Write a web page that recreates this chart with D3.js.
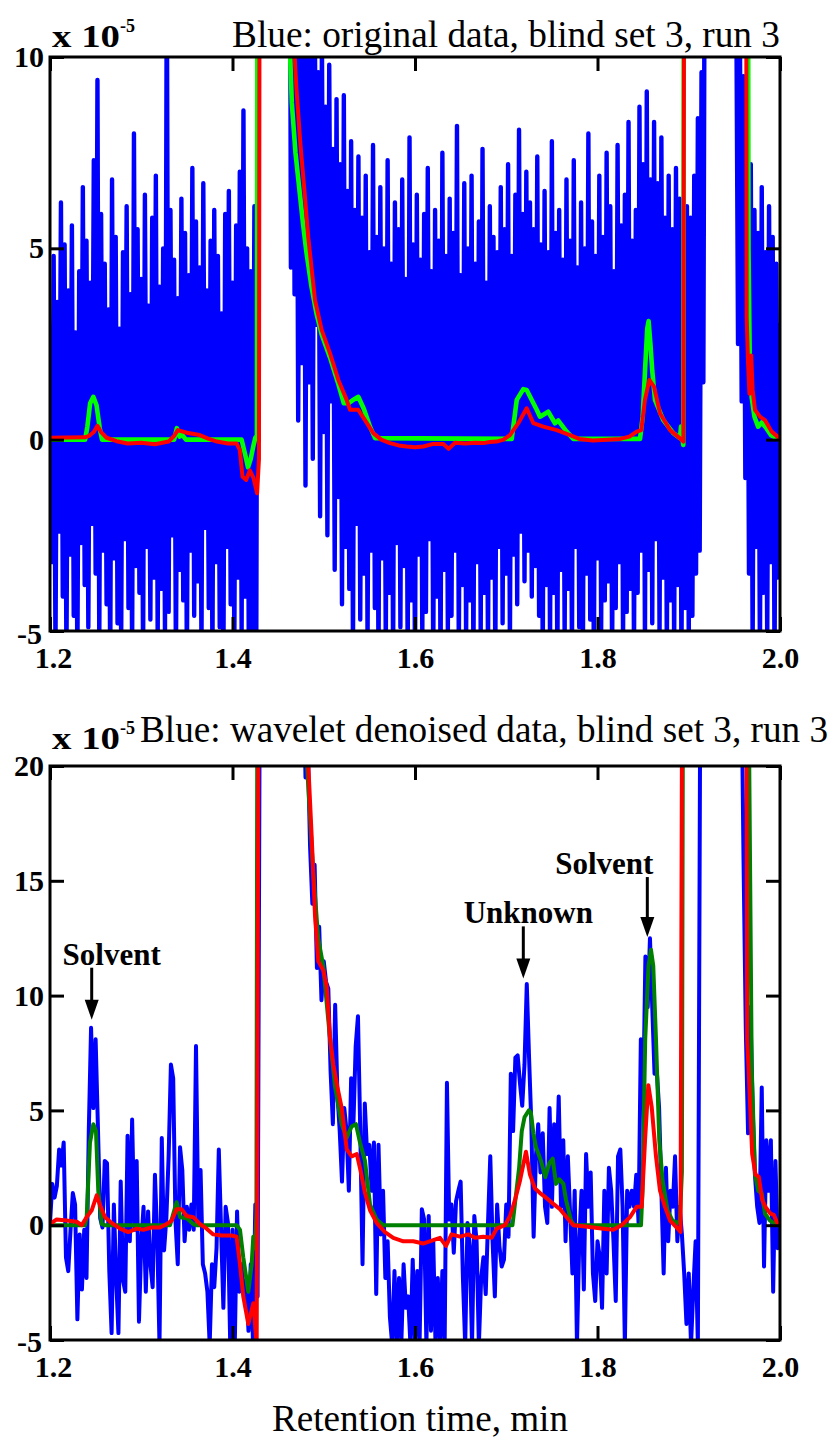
<!DOCTYPE html>
<html>
<head>
<meta charset="utf-8">
<script src="https://cdn.jsdelivr.net/npm/d3@7"></script>
<style>
  body { margin: 0; background: #fff; }
  svg { display: block; }
</style>
</head>
<body>
<svg id="chart" width="833" height="1441"></svg>
<script>
// ---- shared axis values ----
const xTicks = [1.2, 1.4, 1.6, 1.8, 2.0];
const rawYTicks = [-5, 0, 5, 10];
const denoisedYTicks = [-5, 0, 5, 10, 15, 20];

// ---- original detector signal (uniform sampling from 1.200 min, every 0.002 min) ----
const rawStart = 1.2, rawStep = 0.002;
const rawBlue = [
  1.5, -3.2, 4.8, -5.5, 3.6, -2.4, 6.2, -4.1, 5.1, -5.8,
  3.9, -3.0, 5.6, -4.6, 2.8, -5.9, 4.4, -2.7, 6.6, -3.8,
  5.2, -4.9, 4.1, -2.2, 7.3, -3.5, 9.4, -5.4, 5.9, -2.9,
  4.6, -4.3, 3.4, -6.1, 6.8, -3.1, 5.3, -4.8, 2.9, -5.3,
  4.9, -2.6, 6.1, -4.4, 3.8, -5.6, 8.0, -3.3, 5.5, -4.0,
  4.2, -5.7, 6.4, -2.8, 3.5, -4.7, 5.8, -3.6, 6.9, -5.2,
  4.0, -3.9, 5.0, -5.1, 12.5, -4.5, 6.0, -2.5, 4.7, -5.9,
  3.7, -3.4, 6.3, -4.2, 5.4, -6.0, 4.3, -2.9, 7.1, -4.6,
  5.7, -3.7, 4.5, -5.5, 6.7, -2.3, 3.9, -4.4, 5.2, -5.8,
  6.0, -3.2, 4.8, -4.9, 3.3, -6.2, 5.9, -2.8, 6.5, -4.3,
  4.1, -5.4, 5.6, -3.6, 7.0, -5.0, 8.6, -4.1, 5.0, -6.3,
  4.4, -5.2, 6.1, -6.0,
  14.0, 30,
  30, 32, 28, 35, 30, 33, 29, 31, 34, 30, 28, 32, 30, 33, 31,
  25, 4.5, 18, 3.8, 14, 0.5, 12, 2.0, 13, -1.2,
  11.5, 1.5, 10.8, -0.5, 12.0, 3.0, 9.6, -2.0, 10.5, 0.2,
  8.7, -2.5, 9.8, 1.0, 7.6, -3.4, 8.9, -1.5, 7.2, -4.3,
  9.0, -2.8, 6.5, -3.9, 7.8, -5.6, 6.0, -2.2, 7.4, -4.7,
  5.8, -3.5, 6.9, -5.3, 4.9, -2.9, 7.7, -4.4, 5.3, -6.0,
  6.6, -3.1, 5.0, -5.5, 7.3, -4.0, 4.6, -5.8, 6.2, -2.7,
  5.5, -4.9, 6.8, -3.3, 4.2, -5.7, 7.9, -4.2, 5.1, -6.1,
  6.4, -3.0, 4.7, -5.2, 5.9, -4.5, 7.1, -2.6, 4.4, -5.9,
  6.0, -4.1, 5.2, -6.2, 7.5, -3.4, 4.8, -5.0, 6.3, -4.6,
  5.4, -2.9, 8.2, -5.6, 4.3, -3.8, 6.7, -5.3, 5.0, -4.2,
  6.9, -6.0, 4.6, -3.2, 5.7, -5.1, 7.6, -4.0, 4.1, -5.7,
  6.1, -3.6, 5.3, -5.9, 4.9, -2.8, 6.6, -4.8, 5.5, -3.5,
  7.2, -5.4, 4.8, -3.0, 6.4, -4.3, 8.1, -2.4, 5.9, -3.7,
  7.0, -2.9, 6.2, -4.1, 5.5, -3.3, 7.4, -4.6, 5.1, -5.8,
  6.5, -3.8, 4.9, -5.5, 7.8, -4.0, 5.4, -6.1, 6.0, -3.4,
  4.7, -5.2, 6.8, -3.9, 5.2, -5.7, 7.3, -2.8, 4.5, -4.9,
  6.2, -5.6, 5.0, -3.5, 8.0, -4.7, 5.7, -6.0, 4.8, -3.1,
  6.9, -5.0, 5.3, -4.2, 7.5, -3.7, 6.1, -5.9, 4.4, -4.4,
  7.7, -3.2, 5.6, -5.3, 6.4, -4.5, 8.3, -3.9, 5.2, -5.6,
  6.0, -4.0, 8.7, -2.9, 7.2, -5.4, 9.1, -3.4, 6.8, -4.8,
  8.3, -2.6, 6.7, -5.1, 7.9, -3.6, 5.8, -5.7, 6.9, -4.2,
  5.5, -5.5, 7.1, -3.8, 6.3, -5.9, 5.0, -4.4, 6.1, -5.2,
  5.8, -4.6, 6.9, -3.5, 8.4, -2.9, 9.6, 1.5,
  18,
  30, 32, 29, 34, 30, 31, 33, 28, 30, 32, 31, 29, 33, 30,
  25, 30, 12.0, 2.5, 11.0, 1.0, 9.5, -1.0, 8.0, -3.5,
  7.2, -5.5, 6.0, -2.8, 5.4, -5.8, 6.6, -4.0, 4.9, -5.3,
  6.1, -3.2, 5.3, -5.9, 4.6, -3.6, 3.0
];

// ---- reference traces for the original signal: [time, value] ----
const rawGreen = [
  [1.200, 0.0], [1.2385, 0.0], [1.2410, 0.35], [1.2440, 0.95], [1.2475, 1.12], [1.2510, 0.9],
  [1.2545, 0.3], [1.2570, 0.0], [1.3360, 0.0], [1.3390, 0.3], [1.3420, 0.08], [1.3450, 0.12],
  [1.3490, 0.0], [1.4100, 0.0], [1.4140, -0.4], [1.4170, -0.72], [1.4200, -0.5], [1.4230, -0.15],
  [1.4250, 0.05], [1.4268, 0.1], [1.4280, 30],
  [1.4610, 30], [1.4625, 10.5], [1.4650, 8.8], [1.4690, 7.5], [1.4730, 6.6], [1.4770, 5.7],
  [1.4810, 4.9], [1.4865, 4.0], [1.4920, 3.3], [1.4977, 2.75], [1.5068, 2.15], [1.5160, 1.45],
  [1.5220, 0.95], [1.5270, 0.95], [1.5330, 1.05], [1.5379, 1.12], [1.5440, 0.8], [1.5507, 0.34],
  [1.5562, 0.04], [1.7060, 0.02], [1.7115, 1.04], [1.7187, 1.32], [1.7224, 1.3], [1.7334, 0.78],
  [1.7370, 0.6], [1.7460, 0.73], [1.7534, 0.43], [1.7570, 0.5], [1.7662, 0.21], [1.7735, 0.02],
  [1.8466, 0.02], [1.8495, 0.6], [1.8525, 2.0], [1.8545, 2.9], [1.8560, 3.1], [1.8580, 2.5],
  [1.8600, 1.8], [1.8630, 1.04], [1.8721, 0.51], [1.8831, 0.17], [1.8904, 0.04], [1.8915, 0.34],
  [1.8940, -0.14], [1.8955, 30],
  [1.9640, 30], [1.9655, 5.0], [1.9670, 1.8], [1.9690, 1.1], [1.9720, 0.6], [1.9760, 0.34],
  [1.9800, 0.45], [1.9850, 0.3], [1.9900, 0.12], [2.0000, 0.0]
];
const rawRed = [
  [1.200, 0.05], [1.2380, 0.06], [1.2430, 0.1], [1.2480, 0.2], [1.2520, 0.36], [1.2560, 0.2],
  [1.2620, 0.05], [1.2730, -0.04], [1.2850, -0.1], [1.3000, -0.08], [1.3150, -0.12], [1.3300, -0.05],
  [1.3360, 0.1], [1.3400, 0.25], [1.3500, 0.18], [1.3640, 0.12], [1.3740, 0.02], [1.3830, -0.05],
  [1.3950, -0.1], [1.4046, -0.1], [1.4080, -0.27], [1.4110, -0.97], [1.4150, -1.05], [1.4190, -0.8],
  [1.4230, -1.0], [1.4270, -1.4], [1.4290, -0.5], [1.4305, 30],
  [1.4650, 30], [1.4670, 10.5], [1.4700, 9.2], [1.4745, 7.7], [1.4785, 6.6], [1.4830, 5.3],
  [1.4904, 3.65], [1.4977, 2.87], [1.5068, 2.26], [1.5160, 1.56], [1.5251, 1.04], [1.5288, 0.78],
  [1.5379, 0.78], [1.5452, 0.51], [1.5543, 0.17], [1.5630, 0.0], [1.5726, -0.09], [1.5820, -0.15],
  [1.5909, -0.18], [1.6000, -0.2], [1.6091, -0.18], [1.6200, -0.11], [1.6310, -0.11], [1.6368, -0.24],
  [1.6438, -0.08], [1.6550, -0.1], [1.6660, -0.08], [1.6749, -0.09], [1.6820, -0.06], [1.6895, -0.05],
  [1.6970, 0.0], [1.7041, 0.12], [1.7132, 0.43], [1.7224, 0.82], [1.7297, 0.43], [1.7406, 0.34],
  [1.7553, 0.25], [1.7699, 0.12], [1.7800, 0.02], [1.7950, -0.02], [1.8100, 0.0], [1.8250, 0.02],
  [1.8350, 0.08], [1.8429, 0.21], [1.8480, 0.25], [1.8520, 1.04], [1.8568, 1.56], [1.8620, 1.38],
  [1.8685, 0.69], [1.8795, 0.25], [1.8900, 0.04], [1.8941, -0.05], [1.8959, 30],
  [1.9620, 30], [1.9635, 3.2], [1.9650, 2.0], [1.9665, 1.2], [1.9685, 2.2], [1.9700, 1.3],
  [1.9726, 0.78], [1.9780, 0.6], [1.9836, 0.51], [1.9909, 0.21], [1.9982, 0.06], [2.0000, 0.04]
];

// ---- wavelet denoised signal (uniform sampling from 1.200 min, every 0.0025 min) ----
const denoisedStart = 1.2, denoisedStep = 0.0025;
const denoisedBlue = [
  0.1, 1.8, 1.2, 1.7, 3.3, 2.6, 3.6, -1.4, -2.0, -0.2,
  1.4, 0.9, -4.1, -0.4, -2.8, -0.2, -2.3, 4.1, 8.6, 5.1,
  8.1, 4.3, 0.3, -0.1, 2.8, 2.7, -2.0, -4.7, 0.9, -2.3,
  -4.7, 1.9, -2.4, -2.9, 3.9, -0.7, 4.6, -0.2, 2.8, -4.2,
  -0.8, 0.8, -2.9, 0.6, -1.7, -2.7, 2.2, -0.5, -5.2, 3.8,
  -1.1, 0.3, 3.0, 7.0, 6.4, 0.2, -1.7, 3.4, 2.4, -0.7,
  0.8, -0.2, 0.9, -0.2, 7.8, 0.1, 2.4, -1.7, -2.1, -2.9,
  -5.2, -1.7, -2.7, -1.0, 3.3, -0.2, -3.6, 0.8, 0.1, -5.2,
  -0.2, -5.2, 0.6, -2.9, -1.7, -3.1, -2.4, -4.6, -1.7, -5.2,
  0.9, -3.1,
  25, 25, 25, 25, 25, 25, 25, 25, 25, 25,
  25, 25, 25, 25, 25, 25, 25, 25, 25, 25,
  19.5, 21, 16.5, 14.0, 15.7, 11.2, 13.0, 9.8,
  11.5, 10.6, 10.3, 6.7, 4.4, 9.6, 5.7, 4.1, 1.9, 5.1,
  4.1, 1.5, 6.4, 4.4, 7.8, 9.1, 4.1, -1.7, 5.3, 3.1,
  3.5, 1.5, 3.6, -3.0, 3.5, -0.4, 1.5, -2.3, -0.7, -4.0,
  -5.2, -2.0, -5.2, -2.3, -5.2, -1.7, -3.6, -3.1, -5.2, -1.5,
  -5.2, -2.0, -5.2, 0.7, 0.25, -5.2, 0.4, -4.6, -0.7, -5.2,
  -2.3, -5.2, -2.0, -5.2, 6.2, 0.25, 0.9, -1.2, 1.05, 1.5,
  1.9, -2.3, -5.2, 0.1, -0.9, -5.2, 0.4, -0.7, -5.2, -2.3,
  -1.4, -3.0, 0.1, 3.0, -0.7, -3.1, 0.9, -0.9, -1.8, -1.5,
  0.9, -0.5, 6.6, 4.1, 7.3, 7.4, 6.2, 5.2, 7.0, 10.5,
  7.3, 4.4, -0.5, 3.0, 4.4, 2.3, 4.0, 0.8, 0.1, 5.1,
  0.8, 4.4, 2.0, 5.6, 0.8, 3.7, -0.7, 3.0, 0.5, -2.1,
  1.5, -5.2, -0.7, 1.5, -2.8, 3.1, 0.8, 2.3, -2.1, -3.3,
  -0.7, -1.4, -3.6, 1.5, -2.1, 2.5, 1.5, -0.7, -3.3, 3.0,
  3.3, 0.8, -5.2, 1.5, 0.8, 1.5, 0.8, 2.2, 0.1, 8.1,
  5.1, 11.7, 9.5, 12.5, 9.5, 6.6, 6.7, 5.1, 1.5, -2.1,
  2.5, -0.7, 1.5, 0.8, 3.0, -0.7, 0.8, -0.4, -2.1, -4.3,
  -2.1, -5.2, -2.8, -0.7, -5.2, 22, 25,
  25, 25, 25, 25, 25, 25, 25, 25, 25, 25,
  25, 25, 25, 25, 25, 25, 25,
  16, 8.6, 4.0, 9.5, 5.1, 2.2, 0.8, 0.1, 6.0, -1.8,
  3.7, 1.5, 3.7, -2.9, 2.8, -1.0, -0.3
];

// ---- reference traces for the denoised signal: [time, value] ----
const denoisedGreen = [
  [1.200, 0.0], [1.2384, 0.0], [1.2402, 0.35], [1.2438, 3.6], [1.2475, 4.4], [1.2504, 4.1],
  [1.2529, 1.5], [1.2567, 0.05], [1.2600, 0.0], [1.3315, 0.0], [1.3351, 0.5], [1.3388, 1.0],
  [1.3425, 0.35], [1.3498, 0.3], [1.3570, 0.05], [1.3600, 0.0], [1.4046, 0.0], [1.4082, -0.2],
  [1.4118, -1.4], [1.4173, -2.9], [1.4210, -1.7], [1.4228, -0.5], [1.4245, -1.0], [1.4262, 0.5],
  [1.4275, 30],
  [1.4800, 30], [1.4810, 20.5], [1.4884, 15.4], [1.4939, 12.5], [1.4994, 11.3], [1.5067, 8.2],
  [1.5123, 6.05], [1.5196, 4.4], [1.5250, 3.8], [1.5305, 4.3], [1.5353, 4.4], [1.5397, 3.6],
  [1.5452, 2.8], [1.5507, 0.9], [1.5580, 0.25], [1.5653, 0.0], [1.7068, 0.0], [1.7141, 2.5],
  [1.7170, 4.1], [1.7200, 4.7], [1.7248, 5.0], [1.7270, 4.9], [1.7297, 4.0], [1.7326, 3.4],
  [1.7381, 2.8], [1.7428, 2.1], [1.7472, 2.7], [1.7509, 2.9], [1.7545, 1.8], [1.7582, 2.0],
  [1.7626, 1.8], [1.7655, 1.1], [1.7710, 0.2], [1.7746, 0.0], [1.8477, 0.0], [1.8493, 1.5],
  [1.8523, 8.1], [1.8559, 11.3], [1.8586, 12.0], [1.8611, 11.3], [1.8641, 8.1], [1.8677, 3.7],
  [1.8713, 1.95], [1.8767, 0.65], [1.8822, 0.2], [1.8877, 0.1], [1.8902, 0.2], [1.8925, 2.3],
  [1.8940, 30],
  [1.9650, 30], [1.9663, 20], [1.9690, 6.9], [1.9726, 2.2], [1.9762, 1.5], [1.9799, 1.4],
  [1.9836, 0.5], [1.9890, 0.2], [1.9970, 0.0], [2.0000, 0.0]
];
const denoisedRed = [
  [1.200, 0.05], [1.2073, 0.25], [1.2183, 0.2], [1.2293, 0.15], [1.2347, 0.0], [1.2402, 0.35],
  [1.2457, 0.65], [1.2512, 1.3], [1.2556, 0.8], [1.2603, 0.35], [1.2676, 0.1], [1.2767, -0.15],
  [1.2858, -0.3], [1.2949, -0.15], [1.3022, -0.2], [1.3114, -0.1], [1.3205, -0.1], [1.3278, 0.05],
  [1.3333, 0.2], [1.3388, 0.7], [1.3442, 0.7], [1.3497, 0.4], [1.3570, 0.35], [1.3644, 0.05],
  [1.3717, -0.15], [1.3789, -0.4], [1.3881, -0.45], [1.3990, -0.45], [1.4045, -0.5], [1.4082, -1.7],
  [1.4118, -3.1], [1.4173, -4.3], [1.4228, -3.4], [1.4265, -5.2], [1.4290, 30],
  [1.4820, 30], [1.4830, 20.1], [1.4867, 17.0], [1.4904, 13.5], [1.4940, 11.5], [1.4995, 11.1],
  [1.5032, 10.4], [1.5068, 8.2], [1.5105, 7.0], [1.5148, 6.05], [1.5197, 5.1], [1.5252, 3.3],
  [1.5307, 3.0], [1.5362, 3.1], [1.5405, 2.35], [1.5452, 1.4], [1.5507, 0.65], [1.5580, 0.1],
  [1.5671, -0.3], [1.5762, -0.55], [1.5872, -0.7], [1.5981, -0.7], [1.6090, -0.8], [1.6200, -0.65],
  [1.6274, -0.55], [1.6340, -0.9], [1.6400, -0.4], [1.6493, -0.5], [1.6584, -0.4], [1.6658, -0.55],
  [1.6749, -0.5], [1.6840, -0.55], [1.6895, -0.15], [1.6986, 0.0], [1.7041, 0.4], [1.7096, 1.1],
  [1.7151, 1.95], [1.7216, 3.2], [1.7260, 2.2], [1.7315, 1.6], [1.7370, 1.4], [1.7436, 1.2],
  [1.7509, 0.95], [1.7589, 0.7], [1.7662, 0.35], [1.7735, 0.0], [1.7844, -0.05], [1.7954, -0.1],
  [1.8064, -0.15], [1.8173, -0.2], [1.8265, 0.0], [1.8356, 0.35], [1.8429, 0.8], [1.8484, 0.8],
  [1.8521, 3.7], [1.8557, 6.1], [1.8594, 5.15], [1.8641, 3.0], [1.8685, 1.5], [1.8740, 0.8],
  [1.8795, 0.2], [1.8868, -0.1], [1.8910, -0.3], [1.8932, 30],
  [1.9630, 30], [1.9640, 8.1], [1.9658, 6.6], [1.9695, 3.1], [1.9732, 2.2], [1.9768, 2.1],
  [1.9805, 1.1], [1.9841, 0.8], [1.9896, 0.5], [1.9932, 0.45], [1.9975, 0.05], [2.0000, 0.05]
];

// ---- peak annotations on the denoised panel: label, time and value at the arrow tip ----
const peakNames = ["Solvent", "Unknown", "Solvent"];
const peakTimes = [1.2457, 1.7187, 1.8546];
const peakTipValues = [8.95, 10.75, 12.55];

// ---- drawing ----
const svg = d3.select("#chart");
const X_LEFT = 50, X_RIGHT = 780;
const SERIF = "Liberation Serif";
const TICK = 14;
const labelDx = [20, 5, -43];       // label centre offset from arrow, px
const arrowLen = [52, 52, 60];      // arrow shaft length, px

function sampled(start, step, values) {
  return values.map((v, i) => [start + i * step, v]);
}

function drawPanel(p) {
  const x = d3.scaleLinear().domain([1.2, 2.0]).range([X_LEFT, X_RIGHT]);
  const y = d3.scaleLinear().domain(p.yDomain).range([p.bottom, p.top]);
  const g = svg.append("g");

  g.append("clipPath").attr("id", p.id)
    .append("rect").attr("x", X_LEFT).attr("y", p.top)
    .attr("width", X_RIGHT - X_LEFT).attr("height", p.bottom - p.top);

  const plot = g.append("g").attr("clip-path", `url(#${p.id})`);
  const line = d3.line().x(d => x(d[0])).y(d => y(d[1]));
  p.series.forEach(s => {
    plot.append("path").datum(s.data)
      .attr("d", line)
      .attr("fill", "none")
      .attr("stroke", s.color)
      .attr("stroke-width", s.width)
      .attr("stroke-linejoin", "round")
      .attr("stroke-linecap", "round");
  });

  // inward ticks on all four sides
  const styleAxis = sel => {
    sel.attr("font-family", SERIF);
    sel.select(".domain").remove();
    sel.selectAll(".tick line").attr("stroke", "#000").attr("stroke-width", 3);
    sel.selectAll(".tick text")
      .attr("fill", "#000")
      .attr("font-family", SERIF)
      .attr("font-weight", "bold")
      .attr("font-size", 30);
  };
  const xBottom = g.append("g").attr("transform", `translate(0,${p.bottom})`)
    .call(d3.axisBottom(x).tickValues(xTicks).tickSize(-TICK).tickPadding(16).tickFormat(d => d.toFixed(1)))
    .call(styleAxis);
  xBottom.selectAll(".tick text").filter(d => d === 1.2).attr("x", 3);
  g.append("g").attr("transform", `translate(0,${p.top})`)
    .call(d3.axisTop(x).tickValues(xTicks).tickSize(-TICK).tickFormat(""))
    .call(styleAxis);
  const yLeft = g.append("g").attr("transform", `translate(${X_LEFT},0)`)
    .call(d3.axisLeft(y).tickValues(p.yTicks).tickSize(-TICK).tickPadding(6).tickFormat(d => String(d)))
    .call(styleAxis);
  yLeft.selectAll(".tick text").filter(d => d === p.yDomain[0])
    .attr("x", -8).attr("y", p.lowLabelShift);
  g.append("g").attr("transform", `translate(${X_RIGHT},0)`)
    .call(d3.axisRight(y).tickValues(p.yTicks).tickSize(-TICK).tickFormat(""))
    .call(styleAxis);

  // plot frame
  g.append("rect")
    .attr("x", X_LEFT).attr("y", p.top)
    .attr("width", X_RIGHT - X_LEFT).attr("height", p.bottom - p.top)
    .attr("fill", "none").attr("stroke", "#000").attr("stroke-width", 3);

  // scale factor label
  const sf = g.append("text")
    .attr("x", 52).attr("y", p.titleBaseline + p.factorDrop)
    .attr("font-family", SERIF).attr("font-weight", "bold").attr("font-size", 32)
    .attr("fill", "#000");
  sf.append("tspan").text("x 10").attr("textLength", 68).attr("lengthAdjust", "spacingAndGlyphs");
  sf.append("tspan").text("-5").attr("dy", -15).attr("font-size", 18);

  // title
  g.append("text")
    .attr("x", p.titleX).attr("y", p.titleBaseline)
    .attr("textLength", p.titleWidth).attr("lengthAdjust", "spacingAndGlyphs")
    .attr("font-family", SERIF).attr("font-size", 37)
    .attr("fill", "#000")
    .text(p.title);

  return { x, y, g };
}

drawPanel({
  id: "clip-raw",
  top: 57, bottom: 631,
  yDomain: [-5, 10], yTicks: rawYTicks, lowLabelShift: 3,
  title: "Blue: original data, blind set 3, run 3",
  titleX: 232, titleWidth: 548, titleBaseline: 47, factorDrop: 0,
  series: [
    { data: sampled(rawStart, rawStep, rawBlue), color: "#0000ff", width: 4.4 },
    { data: rawGreen, color: "#00ff00", width: 4.6 },
    { data: rawRed, color: "#ff0000", width: 4 }
  ]
});

const bottomPanel = drawPanel({
  id: "clip-denoised",
  top: 766, bottom: 1340,
  yDomain: [-5, 20], yTicks: denoisedYTicks, lowLabelShift: 2,
  title: "Blue: wavelet denoised data, blind set 3, run 3",
  titleX: 140, titleWidth: 688, titleBaseline: 742, factorDrop: 7,
  series: [
    { data: sampled(denoisedStart, denoisedStep, denoisedBlue), color: "#0000ff", width: 4 },
    { data: denoisedGreen, color: "#008000", width: 4 },
    { data: denoisedRed, color: "#ff0000", width: 4 }
  ]
});

// peak arrows and labels
peakNames.forEach((name, i) => {
  const tipX = bottomPanel.x(peakTimes[i]);
  const tipY = bottomPanel.y(peakTipValues[i]);
  const tailY = tipY - arrowLen[i];
  const g = bottomPanel.g;
  g.append("line")
    .attr("x1", tipX).attr("x2", tipX)
    .attr("y1", tailY).attr("y2", tipY - 12)
    .attr("stroke", "#000").attr("stroke-width", 3);
  g.append("path")
    .attr("d", `M${tipX},${tipY} L${tipX - 7},${tipY - 20} L${tipX + 7},${tipY - 20} Z`)
    .attr("fill", "#000");
  g.append("text")
    .attr("x", tipX + labelDx[i]).attr("y", tailY - 3)
    .attr("text-anchor", "middle")
    .attr("font-family", SERIF).attr("font-weight", "bold").attr("font-size", 31)
    .attr("fill", "#000")
    .text(name);
});

// x-axis title
svg.append("text")
  .attr("x", 420).attr("y", 1431)
  .attr("text-anchor", "middle")
  .attr("textLength", 296).attr("lengthAdjust", "spacingAndGlyphs")
  .attr("font-family", SERIF).attr("font-size", 37)
  .attr("fill", "#000")
  .text("Retention time, min");
</script>
</body>
</html>
